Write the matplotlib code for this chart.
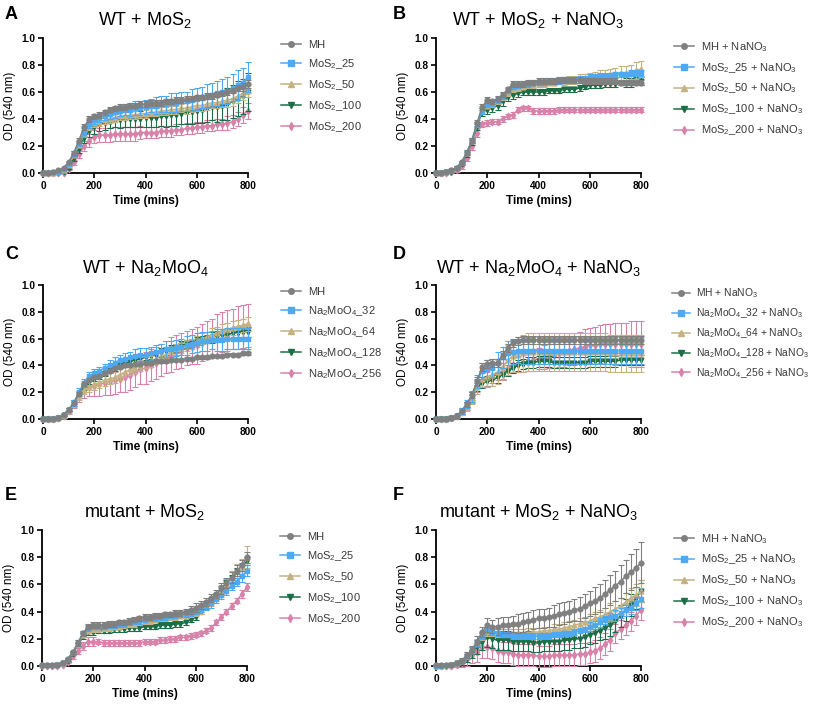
import matplotlib
matplotlib.use("Agg")
import matplotlib.pyplot as plt

plt.rcParams['font.family'] = ['Liberation Sans', 'DejaVu Sans']
plt.rcParams['mathtext.fontset'] = 'custom'
plt.rcParams['mathtext.rm'] = 'Liberation Sans'
plt.rcParams['mathtext.it'] = 'Liberation Sans:italic'
plt.rcParams['mathtext.bf'] = 'Liberation Sans:bold'

time_min = [0, 20, 40, 60, 80, 100, 120, 140, 160, 180, 200, 220, 240, 260, 280, 300, 320, 340, 360, 380,
            400, 420, 440, 460, 480, 500, 520, 540, 560, 580, 600, 620, 640, 660, 680, 700, 720, 740, 760, 780, 800]

# ---- A: WT + MoS2 ----
a_mh = [0.00, 0.00, 0.01, 0.02, 0.04, 0.08, 0.15, 0.24, 0.34, 0.40, 0.42, 0.43, 0.45, 0.47, 0.48, 0.49, 0.49, 0.50, 0.50, 0.51,
        0.51, 0.52, 0.52, 0.52, 0.53, 0.53, 0.54, 0.54, 0.55, 0.55, 0.56, 0.56, 0.57, 0.57, 0.58, 0.59, 0.60, 0.61, 0.63, 0.64, 0.66]
a_25 = [0.00, 0.00, 0.01, 0.01, 0.03, 0.07, 0.14, 0.22, 0.30, 0.36, 0.39, 0.41, 0.42, 0.44, 0.45, 0.46, 0.47, 0.47, 0.48, 0.48,
        0.49, 0.50, 0.50, 0.51, 0.51, 0.52, 0.52, 0.53, 0.53, 0.54, 0.55, 0.56, 0.57, 0.58, 0.59, 0.60, 0.61, 0.63, 0.65, 0.67, 0.71]
a_50 = [0.00, 0.00, 0.00, 0.01, 0.02, 0.06, 0.13, 0.21, 0.29, 0.34, 0.37, 0.38, 0.39, 0.40, 0.41, 0.42, 0.42, 0.43, 0.43, 0.44,
        0.44, 0.45, 0.45, 0.46, 0.46, 0.47, 0.47, 0.48, 0.48, 0.49, 0.50, 0.50, 0.51, 0.52, 0.52, 0.53, 0.54, 0.55, 0.57, 0.59, 0.61]
a_100 = [0.00, 0.00, 0.00, 0.00, 0.01, 0.04, 0.11, 0.18, 0.26, 0.31, 0.34, 0.36, 0.37, 0.38, 0.39, 0.39, 0.40, 0.40, 0.40, 0.40,
         0.41, 0.41, 0.41, 0.42, 0.42, 0.43, 0.43, 0.44, 0.45, 0.45, 0.46, 0.47, 0.48, 0.49, 0.49, 0.50, 0.51, 0.53, 0.55, 0.57, 0.60]
a_200 = [0.00, 0.00, 0.00, 0.00, 0.00, 0.03, 0.08, 0.14, 0.20, 0.24, 0.27, 0.28, 0.28, 0.28, 0.29, 0.29, 0.29, 0.29, 0.29, 0.30,
         0.30, 0.30, 0.30, 0.31, 0.31, 0.31, 0.32, 0.32, 0.33, 0.33, 0.34, 0.34, 0.35, 0.35, 0.36, 0.36, 0.37, 0.38, 0.40, 0.43, 0.46]
a_mh_sd = [0.00, 0.00, 0.00, 0.00, 0.00, 0.01, 0.01, 0.02, 0.02, 0.02, 0.02, 0.02, 0.02, 0.02, 0.02, 0.02, 0.02, 0.02, 0.02, 0.02,
           0.02, 0.02, 0.02, 0.02, 0.02, 0.02, 0.02, 0.02, 0.02, 0.02, 0.02, 0.02, 0.02, 0.02, 0.02, 0.02, 0.02, 0.02, 0.02, 0.03, 0.03]
a_25_sd = [0.00, 0.00, 0.00, 0.00, 0.01, 0.01, 0.02, 0.02, 0.03, 0.03, 0.03, 0.03, 0.03, 0.04, 0.04, 0.04, 0.04, 0.05, 0.05, 0.05,
           0.05, 0.05, 0.06, 0.06, 0.06, 0.07, 0.07, 0.07, 0.07, 0.08, 0.08, 0.08, 0.09, 0.09, 0.09, 0.10, 0.10, 0.10, 0.11, 0.11, 0.11]
a_50_sd = [0.00, 0.00, 0.00, 0.00, 0.00, 0.01, 0.01, 0.02, 0.02, 0.02, 0.03, 0.03, 0.03, 0.03, 0.03, 0.03, 0.03, 0.03, 0.03, 0.03,
           0.03, 0.03, 0.03, 0.03, 0.03, 0.03, 0.03, 0.03, 0.04, 0.04, 0.04, 0.04, 0.04, 0.04, 0.04, 0.04, 0.05, 0.05, 0.05, 0.05, 0.05]
a_100_sd = [0.00, 0.00, 0.00, 0.00, 0.00, 0.01, 0.02, 0.03, 0.04, 0.04, 0.05, 0.05, 0.05, 0.05, 0.05, 0.06, 0.06, 0.06, 0.06, 0.06,
            0.07, 0.07, 0.07, 0.07, 0.08, 0.08, 0.08, 0.08, 0.09, 0.09, 0.09, 0.10, 0.10, 0.10, 0.11, 0.11, 0.12, 0.12, 0.13, 0.13, 0.14]
a_200_sd = [0.00, 0.00, 0.00, 0.00, 0.00, 0.01, 0.02, 0.03, 0.04, 0.05, 0.05, 0.05, 0.05, 0.05, 0.05, 0.05, 0.05, 0.05, 0.05, 0.05,
            0.04, 0.04, 0.04, 0.04, 0.04, 0.04, 0.04, 0.04, 0.04, 0.04, 0.04, 0.04, 0.04, 0.04, 0.04, 0.04, 0.05, 0.05, 0.05, 0.06, 0.06]

# ---- B: WT + MoS2 + NaNO3 ----
b_mh = [0.00, 0.00, 0.01, 0.02, 0.04, 0.08, 0.15, 0.24, 0.37, 0.49, 0.54, 0.53, 0.55, 0.58, 0.62, 0.66, 0.66, 0.66, 0.67, 0.67,
        0.68, 0.68, 0.68, 0.68, 0.69, 0.69, 0.69, 0.69, 0.69, 0.68, 0.68, 0.68, 0.68, 0.68, 0.68, 0.68, 0.67, 0.67, 0.67, 0.67, 0.67]
b_25 = [0.00, 0.00, 0.01, 0.02, 0.04, 0.08, 0.15, 0.24, 0.36, 0.46, 0.51, 0.52, 0.54, 0.57, 0.61, 0.64, 0.65, 0.66, 0.66, 0.67,
        0.67, 0.67, 0.68, 0.68, 0.68, 0.69, 0.69, 0.69, 0.70, 0.70, 0.71, 0.71, 0.72, 0.72, 0.72, 0.73, 0.73, 0.73, 0.74, 0.74, 0.74]
b_50 = [0.00, 0.00, 0.01, 0.02, 0.04, 0.08, 0.15, 0.24, 0.36, 0.46, 0.50, 0.51, 0.53, 0.56, 0.59, 0.62, 0.63, 0.64, 0.65, 0.65,
        0.66, 0.66, 0.67, 0.67, 0.68, 0.68, 0.69, 0.69, 0.70, 0.70, 0.71, 0.71, 0.72, 0.72, 0.73, 0.73, 0.74, 0.74, 0.75, 0.76, 0.77]
b_100 = [0.00, 0.00, 0.01, 0.01, 0.03, 0.07, 0.14, 0.23, 0.35, 0.45, 0.47, 0.48, 0.50, 0.53, 0.56, 0.58, 0.59, 0.60, 0.60, 0.60,
         0.60, 0.60, 0.61, 0.61, 0.61, 0.62, 0.62, 0.62, 0.63, 0.64, 0.65, 0.65, 0.65, 0.66, 0.66, 0.66, 0.67, 0.67, 0.67, 0.68, 0.68]
b_200 = [0.00, 0.00, 0.00, 0.01, 0.02, 0.05, 0.11, 0.20, 0.30, 0.36, 0.37, 0.38, 0.38, 0.40, 0.42, 0.43, 0.47, 0.48, 0.48, 0.46,
         0.46, 0.46, 0.46, 0.46, 0.47, 0.47, 0.47, 0.47, 0.47, 0.47, 0.47, 0.47, 0.47, 0.47, 0.47, 0.47, 0.47, 0.47, 0.47, 0.47, 0.47]
b_mh_sd = [0.00, 0.00, 0.00, 0.01, 0.01, 0.01, 0.02, 0.02, 0.02, 0.02, 0.02, 0.02, 0.02, 0.02, 0.02, 0.02, 0.02, 0.02, 0.02, 0.02,
           0.02, 0.02, 0.02, 0.02, 0.02, 0.02, 0.02, 0.02, 0.02, 0.02, 0.02, 0.02, 0.02, 0.02, 0.02, 0.02, 0.02, 0.02, 0.02, 0.02, 0.02]
b_25_sd = [0.00, 0.00, 0.00, 0.01, 0.01, 0.01, 0.02, 0.02, 0.02, 0.02, 0.02, 0.02, 0.02, 0.02, 0.02, 0.02, 0.02, 0.02, 0.02, 0.02,
           0.02, 0.02, 0.02, 0.02, 0.02, 0.02, 0.02, 0.02, 0.02, 0.02, 0.02, 0.02, 0.02, 0.02, 0.02, 0.02, 0.02, 0.02, 0.02, 0.02, 0.02]
b_50_sd = [0.00, 0.00, 0.00, 0.01, 0.01, 0.01, 0.01, 0.02, 0.02, 0.02, 0.02, 0.02, 0.02, 0.02, 0.02, 0.02, 0.02, 0.02, 0.02, 0.02,
           0.02, 0.02, 0.02, 0.02, 0.02, 0.03, 0.03, 0.03, 0.03, 0.03, 0.03, 0.04, 0.04, 0.04, 0.04, 0.05, 0.05, 0.05, 0.05, 0.06, 0.06]
b_100_sd = [0.00, 0.00, 0.00, 0.01, 0.01, 0.01, 0.02, 0.02, 0.03, 0.03, 0.03, 0.03, 0.03, 0.03, 0.03, 0.03, 0.03, 0.02, 0.02, 0.02,
            0.02, 0.02, 0.02, 0.02, 0.02, 0.02, 0.02, 0.02, 0.02, 0.02, 0.02, 0.02, 0.02, 0.02, 0.02, 0.02, 0.02, 0.03, 0.03, 0.03, 0.03]
b_200_sd = [0.00, 0.00, 0.00, 0.01, 0.01, 0.02, 0.02, 0.03, 0.03, 0.02, 0.02, 0.02, 0.02, 0.02, 0.02, 0.02, 0.02, 0.02, 0.02, 0.02,
            0.02, 0.02, 0.02, 0.02, 0.02, 0.02, 0.02, 0.02, 0.02, 0.02, 0.02, 0.02, 0.02, 0.02, 0.02, 0.02, 0.02, 0.02, 0.02, 0.02, 0.02]

# ---- C: WT + Na2MoO4 ----
c_mh = [0.00, 0.00, 0.00, 0.01, 0.03, 0.07, 0.12, 0.19, 0.26, 0.29, 0.31, 0.32, 0.34, 0.36, 0.38, 0.39, 0.40, 0.40, 0.41, 0.41,
        0.42, 0.42, 0.43, 0.43, 0.43, 0.44, 0.44, 0.44, 0.45, 0.45, 0.46, 0.46, 0.46, 0.47, 0.47, 0.47, 0.48, 0.48, 0.48, 0.49, 0.49]
c_32 = [0.00, 0.00, 0.00, 0.01, 0.03, 0.07, 0.12, 0.20, 0.27, 0.32, 0.34, 0.36, 0.38, 0.40, 0.42, 0.44, 0.45, 0.46, 0.47, 0.48,
        0.48, 0.49, 0.50, 0.51, 0.52, 0.52, 0.53, 0.54, 0.55, 0.56, 0.57, 0.58, 0.58, 0.59, 0.59, 0.59, 0.60, 0.60, 0.60, 0.60, 0.60]
c_64 = [0.00, 0.00, 0.00, 0.01, 0.02, 0.06, 0.11, 0.17, 0.22, 0.24, 0.26, 0.27, 0.29, 0.30, 0.31, 0.33, 0.35, 0.37, 0.38, 0.40,
        0.42, 0.43, 0.45, 0.47, 0.48, 0.50, 0.52, 0.53, 0.55, 0.56, 0.58, 0.60, 0.61, 0.63, 0.64, 0.66, 0.67, 0.68, 0.69, 0.70, 0.71]
c_128 = [0.00, 0.00, 0.00, 0.01, 0.03, 0.07, 0.12, 0.18, 0.24, 0.28, 0.30, 0.32, 0.34, 0.36, 0.38, 0.40, 0.41, 0.43, 0.44, 0.45,
         0.46, 0.47, 0.48, 0.50, 0.51, 0.52, 0.53, 0.55, 0.56, 0.57, 0.58, 0.59, 0.60, 0.61, 0.62, 0.63, 0.63, 0.64, 0.64, 0.65, 0.65]
c_256 = [0.00, 0.00, 0.00, 0.01, 0.02, 0.06, 0.11, 0.17, 0.22, 0.24, 0.25, 0.26, 0.27, 0.28, 0.29, 0.30, 0.31, 0.33, 0.35, 0.37,
         0.38, 0.40, 0.42, 0.44, 0.46, 0.48, 0.50, 0.51, 0.53, 0.54, 0.55, 0.57, 0.59, 0.61, 0.63, 0.65, 0.66, 0.67, 0.68, 0.69, 0.70]
c_mh_sd = [0.00, 0.00, 0.00, 0.00, 0.01, 0.01, 0.01, 0.01, 0.01, 0.01, 0.01, 0.01, 0.01, 0.01, 0.01, 0.01, 0.01, 0.01, 0.01, 0.01,
           0.01, 0.01, 0.01, 0.01, 0.01, 0.01, 0.01, 0.01, 0.01, 0.01, 0.01, 0.01, 0.01, 0.01, 0.01, 0.01, 0.01, 0.01, 0.01, 0.01, 0.01]
c_32_sd = [0.00, 0.00, 0.00, 0.01, 0.01, 0.01, 0.02, 0.03, 0.03, 0.03, 0.03, 0.03, 0.03, 0.04, 0.04, 0.04, 0.04, 0.04, 0.05, 0.05,
           0.05, 0.05, 0.05, 0.05, 0.06, 0.06, 0.06, 0.06, 0.07, 0.07, 0.07, 0.07, 0.07, 0.07, 0.08, 0.08, 0.08, 0.08, 0.08, 0.08, 0.08]
c_64_sd = [0.00, 0.00, 0.00, 0.01, 0.01, 0.01, 0.02, 0.03, 0.03, 0.04, 0.04, 0.04, 0.04, 0.04, 0.04, 0.04, 0.04, 0.04, 0.04, 0.04,
           0.04, 0.04, 0.04, 0.04, 0.04, 0.04, 0.04, 0.04, 0.04, 0.04, 0.04, 0.04, 0.04, 0.05, 0.05, 0.05, 0.05, 0.05, 0.05, 0.05, 0.05]
c_128_sd = [0.00, 0.00, 0.00, 0.01, 0.01, 0.01, 0.02, 0.02, 0.02, 0.02, 0.02, 0.02, 0.02, 0.02, 0.02, 0.02, 0.02, 0.02, 0.02, 0.02,
            0.02, 0.02, 0.03, 0.03, 0.03, 0.03, 0.03, 0.03, 0.03, 0.03, 0.03, 0.03, 0.03, 0.04, 0.04, 0.04, 0.04, 0.04, 0.04, 0.04, 0.04]
c_256_sd = [0.00, 0.00, 0.00, 0.01, 0.01, 0.02, 0.03, 0.04, 0.06, 0.07, 0.08, 0.09, 0.09, 0.10, 0.10, 0.10, 0.11, 0.11, 0.11, 0.11,
            0.12, 0.12, 0.12, 0.12, 0.12, 0.13, 0.13, 0.13, 0.13, 0.13, 0.14, 0.14, 0.14, 0.14, 0.15, 0.15, 0.15, 0.15, 0.16, 0.16, 0.16]

# ---- D: WT + Na2MoO4 + NaNO3 ----
d_mh = [0.00, 0.00, 0.00, 0.01, 0.02, 0.06, 0.11, 0.18, 0.28, 0.39, 0.41, 0.42, 0.42, 0.48, 0.53, 0.57, 0.58, 0.59, 0.59, 0.59,
        0.59, 0.59, 0.59, 0.59, 0.59, 0.59, 0.59, 0.59, 0.59, 0.59, 0.59, 0.59, 0.59, 0.59, 0.59, 0.59, 0.59, 0.59, 0.59, 0.59, 0.59]
d_32 = [0.00, 0.00, 0.00, 0.01, 0.02, 0.06, 0.11, 0.17, 0.28, 0.36, 0.37, 0.38, 0.42, 0.46, 0.49, 0.50, 0.51, 0.51, 0.51, 0.51,
        0.51, 0.51, 0.51, 0.51, 0.51, 0.51, 0.51, 0.51, 0.51, 0.51, 0.51, 0.51, 0.51, 0.51, 0.51, 0.51, 0.51, 0.51, 0.51, 0.51, 0.51]
d_64 = [0.00, 0.00, 0.00, 0.01, 0.02, 0.05, 0.09, 0.15, 0.24, 0.30, 0.31, 0.33, 0.35, 0.39, 0.44, 0.47, 0.48, 0.49, 0.50, 0.50,
        0.50, 0.50, 0.50, 0.50, 0.50, 0.50, 0.50, 0.50, 0.50, 0.50, 0.50, 0.50, 0.50, 0.50, 0.49, 0.49, 0.49, 0.49, 0.49, 0.49, 0.49]
d_128 = [0.00, 0.00, 0.00, 0.01, 0.02, 0.06, 0.11, 0.17, 0.24, 0.27, 0.28, 0.29, 0.31, 0.33, 0.36, 0.38, 0.40, 0.41, 0.42, 0.42,
         0.43, 0.43, 0.43, 0.42, 0.42, 0.42, 0.42, 0.42, 0.42, 0.42, 0.43, 0.43, 0.43, 0.43, 0.43, 0.43, 0.44, 0.44, 0.44, 0.44, 0.44]
d_256 = [0.00, 0.00, 0.00, 0.01, 0.02, 0.05, 0.10, 0.16, 0.25, 0.29, 0.30, 0.32, 0.34, 0.36, 0.38, 0.40, 0.41, 0.42, 0.43, 0.44,
         0.45, 0.46, 0.47, 0.48, 0.49, 0.50, 0.51, 0.52, 0.53, 0.54, 0.55, 0.55, 0.56, 0.56, 0.56, 0.56, 0.56, 0.56, 0.56, 0.56, 0.56]
d_mh_sd = [0.00, 0.00, 0.00, 0.01, 0.01, 0.01, 0.02, 0.02, 0.03, 0.03, 0.03, 0.03, 0.03, 0.03, 0.03, 0.03, 0.03, 0.03, 0.03, 0.03,
           0.03, 0.03, 0.03, 0.03, 0.03, 0.03, 0.03, 0.03, 0.03, 0.03, 0.03, 0.03, 0.03, 0.03, 0.03, 0.03, 0.03, 0.03, 0.03, 0.03, 0.03]
d_32_sd = [0.00, 0.00, 0.00, 0.01, 0.01, 0.02, 0.03, 0.04, 0.05, 0.06, 0.07, 0.07, 0.08, 0.08, 0.09, 0.09, 0.09, 0.10, 0.10, 0.10,
           0.10, 0.10, 0.10, 0.10, 0.10, 0.10, 0.10, 0.10, 0.10, 0.10, 0.10, 0.10, 0.10, 0.10, 0.10, 0.10, 0.10, 0.10, 0.10, 0.10, 0.10]
d_64_sd = [0.00, 0.00, 0.00, 0.01, 0.01, 0.02, 0.03, 0.04, 0.05, 0.06, 0.07, 0.08, 0.09, 0.10, 0.11, 0.12, 0.13, 0.14, 0.14, 0.14,
           0.14, 0.14, 0.14, 0.14, 0.14, 0.14, 0.14, 0.14, 0.14, 0.14, 0.14, 0.14, 0.14, 0.14, 0.14, 0.14, 0.14, 0.14, 0.14, 0.14, 0.14]
d_128_sd = [0.00, 0.00, 0.00, 0.01, 0.01, 0.02, 0.02, 0.03, 0.03, 0.04, 0.04, 0.04, 0.04, 0.04, 0.04, 0.04, 0.04, 0.04, 0.04, 0.04,
            0.04, 0.04, 0.04, 0.04, 0.04, 0.04, 0.04, 0.04, 0.04, 0.04, 0.04, 0.04, 0.04, 0.04, 0.04, 0.04, 0.04, 0.04, 0.04, 0.04, 0.04]
d_256_sd = [0.00, 0.00, 0.00, 0.01, 0.01, 0.02, 0.03, 0.04, 0.05, 0.05, 0.05, 0.05, 0.05, 0.06, 0.06, 0.06, 0.06, 0.07, 0.07, 0.08,
            0.08, 0.09, 0.09, 0.10, 0.10, 0.11, 0.11, 0.12, 0.12, 0.13, 0.13, 0.14, 0.14, 0.15, 0.15, 0.16, 0.16, 0.16, 0.17, 0.17, 0.17]

# ---- E: mutant + MoS2 ----
e_mh = [0.01, 0.01, 0.01, 0.01, 0.02, 0.05, 0.10, 0.17, 0.24, 0.29, 0.30, 0.30, 0.30, 0.31, 0.31, 0.32, 0.32, 0.33, 0.34, 0.35,
        0.36, 0.36, 0.37, 0.37, 0.38, 0.38, 0.39, 0.39, 0.40, 0.41, 0.43, 0.45, 0.47, 0.50, 0.53, 0.57, 0.61, 0.65, 0.70, 0.74, 0.80]
e_25 = [0.01, 0.01, 0.01, 0.01, 0.02, 0.05, 0.10, 0.17, 0.24, 0.28, 0.29, 0.29, 0.29, 0.30, 0.30, 0.31, 0.31, 0.32, 0.33, 0.33,
        0.34, 0.35, 0.35, 0.36, 0.36, 0.37, 0.37, 0.38, 0.38, 0.39, 0.40, 0.42, 0.44, 0.46, 0.49, 0.52, 0.55, 0.59, 0.62, 0.66, 0.70]
e_50 = [0.01, 0.01, 0.01, 0.01, 0.02, 0.05, 0.10, 0.16, 0.23, 0.26, 0.27, 0.27, 0.28, 0.28, 0.29, 0.29, 0.30, 0.31, 0.31, 0.32,
        0.33, 0.33, 0.34, 0.35, 0.35, 0.36, 0.36, 0.37, 0.37, 0.38, 0.39, 0.41, 0.44, 0.47, 0.51, 0.55, 0.60, 0.65, 0.70, 0.73, 0.80]
e_100 = [0.00, 0.00, 0.00, 0.01, 0.02, 0.04, 0.09, 0.16, 0.22, 0.25, 0.25, 0.26, 0.26, 0.26, 0.27, 0.27, 0.27, 0.28, 0.28, 0.28,
         0.29, 0.29, 0.29, 0.30, 0.30, 0.30, 0.31, 0.31, 0.32, 0.34, 0.36, 0.40, 0.44, 0.48, 0.52, 0.57, 0.61, 0.65, 0.70, 0.73, 0.77]
e_200 = [0.00, 0.00, 0.00, 0.00, 0.01, 0.03, 0.07, 0.11, 0.15, 0.18, 0.18, 0.18, 0.17, 0.17, 0.17, 0.17, 0.17, 0.17, 0.17, 0.17,
         0.18, 0.18, 0.18, 0.19, 0.19, 0.20, 0.20, 0.21, 0.21, 0.22, 0.23, 0.24, 0.26, 0.28, 0.32, 0.36, 0.40, 0.44, 0.48, 0.53, 0.58]
e_mh_sd = [0.00, 0.00, 0.00, 0.00, 0.01, 0.01, 0.01, 0.02, 0.02, 0.02, 0.02, 0.02, 0.02, 0.02, 0.02, 0.02, 0.02, 0.02, 0.02, 0.02,
           0.02, 0.02, 0.02, 0.02, 0.02, 0.02, 0.02, 0.02, 0.02, 0.03, 0.03, 0.03, 0.03, 0.03, 0.03, 0.04, 0.04, 0.04, 0.04, 0.04, 0.04]
e_25_sd = [0.00, 0.00, 0.00, 0.00, 0.01, 0.01, 0.01, 0.02, 0.02, 0.02, 0.02, 0.02, 0.02, 0.02, 0.02, 0.02, 0.02, 0.02, 0.02, 0.02,
           0.02, 0.02, 0.02, 0.02, 0.02, 0.02, 0.02, 0.02, 0.02, 0.02, 0.02, 0.02, 0.03, 0.03, 0.03, 0.03, 0.03, 0.03, 0.03, 0.04, 0.04]
e_50_sd = [0.00, 0.00, 0.00, 0.00, 0.01, 0.01, 0.01, 0.02, 0.02, 0.02, 0.02, 0.02, 0.02, 0.02, 0.02, 0.02, 0.02, 0.02, 0.02, 0.02,
           0.02, 0.02, 0.02, 0.02, 0.02, 0.02, 0.02, 0.02, 0.02, 0.02, 0.02, 0.03, 0.03, 0.03, 0.03, 0.04, 0.04, 0.05, 0.05, 0.06, 0.08]
e_100_sd = [0.00, 0.00, 0.00, 0.00, 0.01, 0.01, 0.01, 0.01, 0.02, 0.02, 0.02, 0.02, 0.02, 0.02, 0.02, 0.02, 0.02, 0.02, 0.02, 0.02,
            0.02, 0.02, 0.02, 0.02, 0.02, 0.02, 0.02, 0.02, 0.02, 0.02, 0.02, 0.02, 0.02, 0.02, 0.02, 0.02, 0.02, 0.02, 0.02, 0.03, 0.03]
e_200_sd = [0.00, 0.00, 0.00, 0.00, 0.01, 0.01, 0.02, 0.02, 0.03, 0.03, 0.03, 0.02, 0.02, 0.02, 0.02, 0.02, 0.02, 0.02, 0.02, 0.02,
            0.02, 0.02, 0.02, 0.02, 0.02, 0.02, 0.02, 0.02, 0.02, 0.02, 0.02, 0.02, 0.02, 0.02, 0.02, 0.02, 0.02, 0.02, 0.02, 0.03, 0.03]

# ---- F: mutant + MoS2 + NaNO3 ----
f_mh = [0.01, 0.01, 0.01, 0.01, 0.02, 0.04, 0.08, 0.12, 0.18, 0.25, 0.30, 0.29, 0.29, 0.30, 0.30, 0.31, 0.31, 0.32, 0.33, 0.34,
        0.35, 0.35, 0.36, 0.37, 0.38, 0.39, 0.40, 0.41, 0.42, 0.44, 0.46, 0.48, 0.50, 0.53, 0.56, 0.59, 0.62, 0.66, 0.69, 0.72, 0.76]
f_25 = [0.00, 0.00, 0.01, 0.01, 0.02, 0.04, 0.07, 0.12, 0.17, 0.22, 0.26, 0.25, 0.24, 0.23, 0.23, 0.22, 0.22, 0.22, 0.22, 0.22,
        0.22, 0.22, 0.22, 0.23, 0.23, 0.24, 0.24, 0.25, 0.26, 0.27, 0.29, 0.30, 0.32, 0.34, 0.36, 0.37, 0.39, 0.41, 0.43, 0.46, 0.49]
f_50 = [0.00, 0.00, 0.01, 0.01, 0.02, 0.04, 0.07, 0.12, 0.17, 0.22, 0.25, 0.25, 0.24, 0.24, 0.24, 0.24, 0.24, 0.24, 0.25, 0.25,
        0.25, 0.26, 0.26, 0.27, 0.27, 0.28, 0.29, 0.30, 0.31, 0.32, 0.33, 0.35, 0.36, 0.38, 0.40, 0.42, 0.44, 0.47, 0.50, 0.52, 0.55]
f_100 = [0.00, 0.00, 0.00, 0.01, 0.02, 0.03, 0.06, 0.10, 0.14, 0.18, 0.21, 0.20, 0.19, 0.19, 0.19, 0.18, 0.18, 0.18, 0.18, 0.17,
         0.17, 0.18, 0.18, 0.18, 0.18, 0.19, 0.19, 0.20, 0.20, 0.21, 0.23, 0.24, 0.26, 0.28, 0.30, 0.33, 0.37, 0.41, 0.45, 0.50, 0.55]
f_200 = [0.00, 0.00, 0.00, 0.00, 0.01, 0.02, 0.05, 0.08, 0.10, 0.14, 0.14, 0.13, 0.11, 0.10, 0.10, 0.09, 0.08, 0.08, 0.08, 0.08,
         0.07, 0.07, 0.07, 0.08, 0.08, 0.08, 0.08, 0.08, 0.09, 0.09, 0.10, 0.11, 0.13, 0.16, 0.19, 0.24, 0.27, 0.30, 0.33, 0.37, 0.41]
f_mh_sd = [0.00, 0.00, 0.00, 0.01, 0.01, 0.02, 0.02, 0.03, 0.04, 0.04, 0.05, 0.05, 0.06, 0.06, 0.06, 0.06, 0.07, 0.07, 0.07, 0.07,
           0.07, 0.07, 0.07, 0.08, 0.08, 0.08, 0.08, 0.08, 0.09, 0.09, 0.09, 0.10, 0.10, 0.10, 0.11, 0.11, 0.12, 0.12, 0.13, 0.14, 0.15]
f_25_sd = [0.00, 0.00, 0.00, 0.01, 0.01, 0.01, 0.02, 0.02, 0.02, 0.02, 0.02, 0.02, 0.02, 0.02, 0.02, 0.02, 0.02, 0.02, 0.02, 0.02,
           0.02, 0.02, 0.02, 0.02, 0.02, 0.02, 0.02, 0.02, 0.02, 0.02, 0.03, 0.03, 0.03, 0.03, 0.03, 0.04, 0.04, 0.04, 0.05, 0.05, 0.06]
f_50_sd = [0.00, 0.00, 0.00, 0.01, 0.01, 0.01, 0.02, 0.02, 0.03, 0.03, 0.03, 0.03, 0.03, 0.03, 0.03, 0.03, 0.03, 0.03, 0.03, 0.03,
           0.03, 0.03, 0.03, 0.04, 0.04, 0.04, 0.04, 0.04, 0.04, 0.04, 0.05, 0.05, 0.05, 0.05, 0.06, 0.06, 0.06, 0.07, 0.07, 0.08, 0.08]
f_100_sd = [0.00, 0.00, 0.00, 0.01, 0.01, 0.02, 0.03, 0.04, 0.05, 0.06, 0.07, 0.07, 0.07, 0.07, 0.07, 0.07, 0.07, 0.07, 0.07, 0.07,
            0.07, 0.07, 0.07, 0.07, 0.07, 0.07, 0.07, 0.07, 0.07, 0.07, 0.07, 0.07, 0.07, 0.08, 0.08, 0.08, 0.08, 0.08, 0.08, 0.08, 0.08]
f_200_sd = [0.00, 0.00, 0.00, 0.01, 0.02, 0.03, 0.05, 0.06, 0.07, 0.08, 0.08, 0.08, 0.08, 0.08, 0.08, 0.08, 0.08, 0.08, 0.08, 0.08,
            0.08, 0.08, 0.08, 0.08, 0.08, 0.08, 0.08, 0.08, 0.08, 0.08, 0.08, 0.08, 0.08, 0.08, 0.08, 0.07, 0.07, 0.07, 0.07, 0.07, 0.07]

mos2_labels = ['MH', 'MoS$_2$_25', 'MoS$_2$_50', 'MoS$_2$_100', 'MoS$_2$_200']
mos2_no3_labels = ['MH + NaNO$_3$', 'MoS$_2$_25 + NaNO$_3$', 'MoS$_2$_50 + NaNO$_3$',
                   'MoS$_2$_100 + NaNO$_3$', 'MoS$_2$_200 + NaNO$_3$']
namo_labels = ['MH', 'Na$_2$MoO$_4$_32', 'Na$_2$MoO$_4$_64', 'Na$_2$MoO$_4$_128', 'Na$_2$MoO$_4$_256']
namo_no3_labels = ['MH + NaNO$_3$', 'Na$_2$MoO$_4$_32 + NaNO$_3$', 'Na$_2$MoO$_4$_64 + NaNO$_3$',
                   'Na$_2$MoO$_4$_128 + NaNO$_3$', 'Na$_2$MoO$_4$_256 + NaNO$_3$']

colors = ['#808080', '#4fa8f2', '#c4b283', '#1b6e45', '#d682a9']
markers = ['o', 's', '^', 'v', 'd']

panels = [
    ('A', 'WT + MoS$_2$', mos2_labels,
     [a_mh, a_25, a_50, a_100, a_200], [a_mh_sd, a_25_sd, a_50_sd, a_100_sd, a_200_sd]),
    ('B', 'WT + MoS$_2$ + NaNO$_3$', mos2_no3_labels,
     [b_mh, b_25, b_50, b_100, b_200], [b_mh_sd, b_25_sd, b_50_sd, b_100_sd, b_200_sd]),
    ('C', 'WT + Na$_2$MoO$_4$', namo_labels,
     [c_mh, c_32, c_64, c_128, c_256], [c_mh_sd, c_32_sd, c_64_sd, c_128_sd, c_256_sd]),
    ('D', 'WT + Na$_2$MoO$_4$ + NaNO$_3$', namo_no3_labels,
     [d_mh, d_32, d_64, d_128, d_256], [d_mh_sd, d_32_sd, d_64_sd, d_128_sd, d_256_sd]),
    ('E', 'mutant + MoS$_2$', mos2_labels,
     [e_mh, e_25, e_50, e_100, e_200], [e_mh_sd, e_25_sd, e_50_sd, e_100_sd, e_200_sd]),
    ('F', 'mutant + MoS$_2$ + NaNO$_3$', mos2_no3_labels,
     [f_mh, f_25, f_50, f_100, f_200], [f_mh_sd, f_25_sd, f_50_sd, f_100_sd, f_200_sd]),
]

W, H = 817, 704
fig = plt.figure(figsize=(W / 100, H / 100), dpi=100)

# axes boxes in pixels: left, top, right, bottom
boxes = [(43, 38, 248, 173), (436, 38, 641, 173),
         (43, 285, 248, 419), (436, 285, 641, 419),
         (42, 530, 247, 666), (436, 530, 641, 666)]
letter_pos = [(5, 6), (393, 6), (5, 246), (393, 246), (5, 487), (393, 487)]

for (letter, title, labels, series, sds), (l, t, r, b), (lx, ly) in zip(panels, boxes, letter_pos):
    ax = fig.add_axes([l / W, 1 - b / H, (r - l) / W, (b - t) / H])
    # gray (MH) drawn last so it sits on top
    for i in reversed(range(5)):
        ax.errorbar(time_min, series[i], yerr=sds[i], color=colors[i], marker=markers[i],
                    markersize=3.4, linewidth=1.1, elinewidth=0.8, capsize=2.0, capthick=0.8,
                    clip_on=False, zorder=3 + (5 - i))
    handles = []
    for i in range(5):
        h, = ax.plot([], [], color=colors[i], marker=markers[i], markersize=4, linewidth=1.1,
                     label=labels[i])
        handles.append(h)

    ax.set_xlim(0, 800)
    ax.set_ylim(0, 1.0)
    ax.set_xticks([0, 200, 400, 600, 800])
    ax.set_yticks([0.0, 0.2, 0.4, 0.6, 0.8, 1.0])
    ax.set_yticklabels(['0.0', '0.2', '0.4', '0.6', '0.8', '1.0'])
    for s in ['top', 'right']:
        ax.spines[s].set_visible(False)
    for s in ['left', 'bottom']:
        ax.spines[s].set_linewidth(1.3)
    ax.tick_params(direction='out', length=3.5, width=1.2, labelsize=7.3, pad=2)
    for lab in ax.get_xticklabels() + ax.get_yticklabels():
        lab.set_fontweight('bold')
    ax.set_xlabel('Time (mins)', fontsize=8.5, fontweight='bold', labelpad=3)
    ax.set_ylabel('OD (540 nm)', fontsize=8.5, labelpad=4)
    ax.set_title(title, fontsize=13, pad=9)

    # panel D has the longest labels; keep them inside the figure
    if letter == 'D':
        leg_x, leg_fs, leg_sp = 1.13, 7.4, 0.6
    else:
        leg_x, leg_fs, leg_sp = 1.14, 8, 0.65
    leg = ax.legend(handles=handles, loc='upper left', bbox_to_anchor=(leg_x, 1.02), frameon=False,
                    fontsize=leg_fs, labelspacing=leg_sp,
                    handlelength=1.8, handletextpad=0.6, borderaxespad=0)
    for txt in leg.get_texts():
        txt.set_color('#3a3a3a')

    fig.text(lx / W, 1 - ly / H, letter, fontsize=13, fontweight='bold', va='top', ha='left')

fig.savefig('out.png', dpi=100)
